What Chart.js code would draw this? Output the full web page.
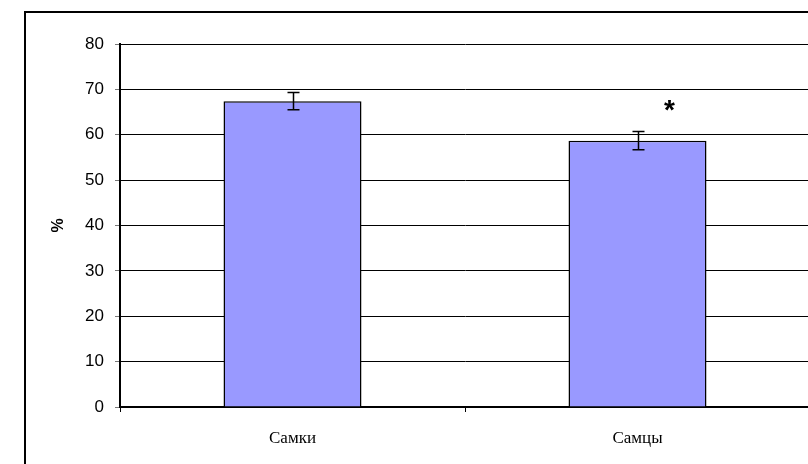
<!DOCTYPE html>
<html>
<head>
<meta charset="utf-8">
<script src="https://cdn.jsdelivr.net/npm/chart.js@4/dist/chart.umd.min.js"></script>
<style>
  html, body { margin: 0; padding: 0; background: #fff; overflow: hidden; }
  #wrap { width: 808px; height: 464px; overflow: hidden; position: relative; }
  canvas { position: absolute; left: 0; top: 0; }
</style>
</head>
<body>
<div id="wrap"><canvas id="c" width="850" height="490"></canvas></div>
<script>
// Group labels, mean share (%), and standard error for each group
const categories = ['Самки', 'Самцы'];
const means = [67.4, 58.7];
const errors = [1.9, 2.0];
// Significance marks shown above groups
const marks = ['', '*'];
// Value axis range
const yMin = 0;
const yMax = 80;
const yStep = 10;

// Frame around the whole figure
const framePlugin = {
  id: 'frame',
  beforeDraw(chart) {
    const ctx = chart.ctx;
    ctx.save();
    ctx.fillStyle = '#fff';
    ctx.fillRect(0, 0, chart.width, chart.height);
    ctx.strokeStyle = '#000';
    ctx.lineWidth = 2;
    ctx.strokeRect(25, 12, 1000, 1000);
    ctx.restore();
  }
};

// Error bars and significance marks
const errorPlugin = {
  id: 'errorBars',
  afterDatasetsDraw(chart) {
    const ctx = chart.ctx;
    const meta = chart.getDatasetMeta(0);
    const y = chart.scales.y;
    ctx.save();
    ctx.strokeStyle = '#000';
    ctx.lineWidth = 1.5;
    meta.data.forEach((bar, i) => {
      const x = Math.round(bar.x) + 0.5;
      const top = y.getPixelForValue(means[i] + errors[i]);
      const bot = y.getPixelForValue(means[i] - errors[i]);
      ctx.beginPath();
      ctx.moveTo(x, top); ctx.lineTo(x, bot);
      ctx.moveTo(x - 6, top); ctx.lineTo(x + 6, top);
      ctx.moveTo(x - 6, bot); ctx.lineTo(x + 6, bot);
      ctx.stroke();
      if (marks[i]) {
        ctx.fillStyle = '#000';
        ctx.font = 'bold 28px "Liberation Sans", Arial, sans-serif';
        ctx.textAlign = 'center';
        ctx.textBaseline = 'middle';
        ctx.fillText(marks[i], bar.x + 32, top - 20);
      }
    });
    ctx.restore();
  }
};

new Chart(document.getElementById('c'), {
  type: 'bar',
  data: {
    labels: categories,
    datasets: [{
      data: means,
      backgroundColor: '#9999FF',
      borderColor: '#000',
      borderWidth: 1.5,
      categoryPercentage: 1,
      barPercentage: 0.4
    }]
  },
  options: {
    responsive: false,
    animation: false,
    devicePixelRatio: 1,
    layout: { padding: { left: 0, top: 44, right: 40, bottom: 0 } },
    plugins: { legend: { display: false }, tooltip: { enabled: false } },
    scales: {
      x: {
        offset: true,
        grid: {
          offset: true,
          drawOnChartArea: false,
          drawTicks: true,
          tickLength: 5,
          color: '#000',
          lineWidth: 1
        },
        border: { color: '#000', width: 2 },
        ticks: {
          color: '#000',
          padding: 16,
          font: { family: '"Liberation Serif", "Times New Roman", serif', size: 17 }
        },
        afterFit(scale) { scale.height = 83; }
      },
      y: {
        min: yMin,
        max: yMax,
        ticks: {
          stepSize: yStep,
          color: '#000',
          padding: 11,
          font: { family: '"Liberation Sans", Arial, sans-serif', size: 17 }
        },
        grid: {
          color: '#000',
          lineWidth: 1,
          tickLength: 5,
          tickColor: '#777'
        },
        border: { color: '#000', width: 2 },
        title: {
          display: true,
          text: '%',
          color: '#000',
          padding: { top: 49, bottom: 0 },
          font: { family: '"Liberation Sans", Arial, sans-serif', size: 16, weight: 'bold' }
        },
        afterFit(scale) { scale.width = 120; }
      }
    }
  },
  plugins: [framePlugin, errorPlugin]
});
</script>
</body>
</html>
